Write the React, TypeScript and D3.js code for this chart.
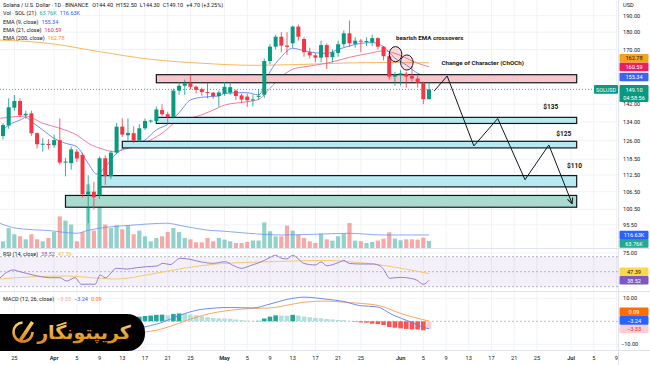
import React from 'react';
import * as d3 from 'd3';

// SOLUSD daily candles, Mar 23 2025 -> Jun 6 2025
const START = Date.UTC(2025, 2, 23);
const DAY = 86400000;
const dayOf = (i: number) => new Date(START + i * DAY);

const opens = [127.9, 132.4, 140.4, 143.5, 137.0, 137.8, 129.1, 124.5, 124.6, 124.1,
  126.2, 117.2, 117.0, 121.5, 120.2, 105.6, 106.5, 105.3, 118.9, 112.1,
  121.1, 131.9, 128.2, 129.1, 126.0, 131.2, 134.4, 134.4, 139.3, 137.4,
  136.2, 148.5, 150.9, 152.1, 150.4, 149.2, 147.8, 147.5, 145.9, 147.0,
  147.5, 148.5, 146.2, 145.6, 143.8, 145.5, 146.5, 163.7, 171.6, 177.3,
  172.2, 173.5, 183.3, 176.0, 168.5, 166.8, 165.5, 172.5, 165.8, 168.1,
  173.0, 179.3, 173.2, 175.0, 174.5, 174.0, 176.5, 171.6, 166.3, 155.5,
  156.5, 157.0, 155.8, 154.5, 152.4, 144.4];
const highs = [133.5, 144.8, 146.4, 144.8, 139.0, 139.0, 129.5, 127.0, 126.6, 128.5,
  135.5, 119.0, 123.5, 122.5, 121.0, 112.4, 110.0, 119.5, 120.0, 122.0,
  133.5, 135.5, 135.5, 132.0, 133.0, 135.5, 135.0, 141.0, 142.0, 138.5,
  149.5, 152.8, 154.0, 156.5, 151.0, 150.0, 152.4, 148.0, 148.5, 152.8,
  152.4, 149.0, 147.0, 147.0, 146.5, 149.0, 165.0, 173.0, 178.5, 180.0,
  180.0, 184.0, 184.5, 177.0, 171.0, 168.0, 175.0, 173.5, 170.0, 175.0,
  181.0, 187.0, 177.0, 176.0, 177.0, 178.5, 177.0, 172.0, 167.0, 158.0,
  159.0, 158.0, 161.0, 156.0, 153.0, 152.5];
const lows = [126.5, 131.0, 139.0, 136.0, 135.5, 128.0, 122.8, 121.5, 122.4, 123.0,
  116.5, 112.0, 114.5, 117.5, 104.5, 96.0, 100.5, 104.0, 108.9, 111.0,
  120.5, 127.5, 126.0, 125.0, 125.5, 130.5, 133.5, 133.5, 136.5, 133.2,
  135.5, 146.5, 146.4, 149.0, 147.0, 146.0, 144.8, 144.5, 140.8, 146.0,
  146.5, 144.0, 142.5, 140.8, 141.0, 144.0, 145.0, 162.0, 170.0, 168.5,
  167.0, 171.0, 175.0, 166.0, 165.0, 163.0, 163.0, 159.5, 163.0, 166.0,
  171.5, 171.5, 171.0, 168.5, 172.0, 172.0, 170.0, 164.0, 154.0, 151.0,
  151.0, 150.0, 153.0, 150.0, 142.0, 144.3];
const closes = [132.6, 140.6, 143.5, 137.0, 137.6, 129.1, 124.5, 124.7, 124.3, 126.2,
  117.2, 117.6, 122.4, 118.8, 105.6, 106.5, 104.6, 118.9, 112.1, 121.1,
  131.9, 128.5, 129.2, 126.0, 131.2, 134.4, 134.6, 139.6, 137.4, 136.2,
  148.5, 150.9, 152.1, 150.4, 148.9, 147.8, 147.6, 145.9, 147.6, 150.4,
  150.2, 145.9, 144.2, 143.9, 144.3, 146.0, 163.7, 171.6, 177.3, 172.2,
  171.5, 183.3, 177.3, 168.5, 166.8, 165.5, 172.5, 165.8, 168.5, 173.0,
  179.3, 173.5, 175.0, 174.5, 174.8, 176.5, 171.6, 166.3, 155.5, 156.5,
  157.2, 155.5, 154.5, 152.4, 144.4, 149.1];
// volume in thousands of SOL
const volumes = [60, 179, 123, 105, 78, 123, 78, 60, 90, 143,
  284, 246, 210, 60, 143, 571, 156, 645, 210, 179,
  204, 168, 204, 123, 156, 105, 60, 90, 105, 143,
  179, 143, 90, 78, 51, 51, 90, 60, 90, 75,
  60, 45, 45, 54, 67, 67, 230, 150, 105, 105,
  201, 156, 120, 90, 60, 45, 129, 78, 66, 105,
  129, 224, 66, 60, 45, 54, 66, 84, 141, 84,
  69, 78, 78, 75, 93, 63.76];

// indicator lines as [day index, value]
const ema9 = [[0, 130.5], [1, 132.6], [3, 134.8], [4, 136.0], [5, 134.1], [7, 130.5], [9, 126.9], [11, 124.9],
  [13, 123.5], [15, 116.9], [16.5, 112.9], [18, 115.6], [20, 120.8], [22, 123.8], [25, 126.2], [27, 130.5],
  [29, 133.0], [31, 138.1], [33, 144.0], [35, 145.3], [38, 145.9], [39, 147.2], [43, 147.5], [45, 146.4],
  [47, 158.0], [49, 166.0], [51, 170.7], [53, 169.3], [55, 168.2], [57, 167.9], [59, 170.1], [61, 172.0],
  [63, 173.5], [65, 173.9], [67, 171.6], [69, 165.2], [71, 161.6], [73, 157.2], [75, 155.34]];
const ema21 = [[-0.5, 135.6], [1, 136.0], [4, 136.6], [7, 133.4], [10, 131.2], [13, 128.3], [15, 124.9],
  [18, 122.2], [19.4, 121.5], [22, 122.8], [25, 125.1], [28, 129.1], [31, 134.8], [34, 136.3], [37, 139.3],
  [39, 141.6], [43, 143.2], [45, 144.3], [47, 149.6], [49, 155.5], [51, 159.3], [53, 160.6], [57, 162.5],
  [61, 165.7], [65, 168.2], [67, 169.3], [69, 167.9], [73, 162.5], [75, 160.59]];
const ema200 = [[-0.6, 175.4], [8, 173.5], [17, 168.8], [26, 164.6], [35, 162.5], [44, 161.4], [52, 161.8],
  [60, 162.6], [68, 162.9], [75, 162.78]];
const volMA = [[-0.6, 222], [2.4, 177], [8.3, 155], [13, 132], [14.7, 155], [17, 177], [23, 206], [28.8, 222],
  [31.7, 197], [35.9, 161], [39, 150], [43.2, 132], [49, 117], [54.9, 123], [60.8, 132], [66.7, 117], [75, 116.63]];
const rsi = [[-0.6, 41.2], [1.8, 52.3], [3, 50], [5.3, 45.6], [8.3, 42], [10, 42], [11.2, 37.6], [12.7, 42],
  [13.8, 33.2], [15.3, 33.4], [16.2, 33.2], [17.1, 45.6], [18, 42], [20, 54.5], [21.8, 53.5], [23.5, 55.3],
  [25.3, 56.7], [27, 57.5], [28.2, 61.2], [29.4, 59.5], [31.2, 67.9], [32.9, 66.5], [34.7, 63.3], [37, 61.2],
  [39.1, 63.3], [40.6, 58], [42, 54.5], [43.5, 58], [46, 65], [47, 69], [48, 72], [49, 68], [50, 67], [51, 72],
  [52, 67], [53, 61], [55, 59], [56, 63], [57, 58], [59, 62], [60, 65], [61, 61], [62.9, 60.3], [65.1, 60.3],
  [66.4, 57.7], [67, 53], [68.1, 41.2], [69.9, 42.5], [71.7, 41.2], [72.8, 38.9], [74, 33.2], [75, 38.52]];
const rsiMA = [[-0.6, 40.3], [5.3, 43.3], [11.2, 44.3], [17.1, 41.2], [20, 40.3], [25.9, 46.5], [31.7, 54.5],
  [37.6, 60.3], [43.5, 62.5], [50, 64], [56, 65], [62.9, 62], [66.4, 59], [75, 47.39]];
const macdLine = [[-0.6, -0.5], [5, 0.5], [10, -2.5], [14, -5.5], [17, -7.5], [20, -5.5], [24, -3], [28, -0.5],
  [31, 2.5], [35, 5.2], [40, 6], [44, 5.8], [47, 7.5], [50, 9.5], [53, 10.5], [57, 9.6], [60, 8.6], [62.9, 6.8],
  [65.8, 6.3], [68.7, 2.7], [71.7, -0.2], [74, -2.6], [75, -3.24]];
const signalLine = [[-0.6, -2], [5, -0.5], [10, -1.2], [14, -3.0], [17, -5.0], [20, -5.8], [24, -5], [28, -3.3],
  [31, -0.8], [35, 2.5], [40, 4.8], [44, 5.6], [47, 5.8], [50, 7], [53, 8.3], [57, 8.8], [60, 8.3], [62.9, 7.8],
  [66.4, 6.7], [69.9, 3.5], [75, 0.09]];
const macdHist = [1.5, 2.3, 2.6, 2.2, 1.8, 1.0, 0.3, -0.3, -0.8, -0.9,
  -1.5, -1.9, -1.8, -1.9, -3.0, -3.2, -3.0, -2.2, -1.4, -0.6,
  0.3, 0.9, 1.3, 1.6, 2.0, 2.3, 2.5, 2.8, 2.9, 2.6,
  3.2, 3.4, 3.3, 3.0, 2.6, 2.2, 1.8, 1.5, 1.3, 1.2,
  1.1, 0.8, 0.5, 0.3, 0.2, 0.2, 1.2, 2.0, 2.6, 2.5,
  2.4, 2.8, 2.5, 2.1, 1.8, 1.5, 1.3, 1.0, 0.8, 0.6,
  0.5, 0.2, -0.2, -0.5, -0.6, -1.0, -1.2, -1.6, -2.5, -2.8,
  -3.1, -3.3, -3.5, -3.6, -3.9, -3.33];

const priceTicks = [190, 180, 170, 142, 134, 126, 118.5, 112.5, 106.5, 100.5, 95.5];
const dateTicks: [number, string][] = [
  [2, '25'], [9, 'Apr'], [13, '5'], [17, '9'], [21, '13'], [25, '17'], [29, '21'], [33, '25'],
  [39, 'May'], [43, '5'], [47, '9'], [51, '13'], [55, '17'], [59, '21'], [63, '25'],
  [70, 'Jun'], [74, '5'], [78, '9'], [82, '13'], [86, '17'], [90, '21'], [94, '25'],
  [100, 'Jul'], [104, '5'], [108, '9']];

// drawing annotations: zones as [from day, to day, low, high, kind]
const zones: [number, number, number, number, string][] = [
  [27, 101, 152.4, 156.5, 'supply'],
  [27, 101, 133.3, 136.0, 'target'],
  [21, 101, 123.0, 125.7, 'target'],
  [17, 101, 108.2, 112.3, 'target'],
  [11, 101, 101.2, 105.2, 'base']];
const zigzag = [[75.9, 148.3], [78.2, 155.8], [82.9, 123.8], [87.1, 135.5], [91.9, 110.8], [96.1, 124.2], [100.2, 102.4]];
const crossCircles = [[69.1, 167.4], [71.1, 162.9]];
const notes: [number, number, string, number][] = [
  [69.2, 175.4, 'bearish EMA crossovers', 6.2],
  [77.2, 161.6, 'Change of Character (ChOCh)', 6.2],
  [95.1, 139.8, '$135', 6.6],
  [97.4, 127.9, '$125', 6.6],
  [99.3, 115.1, '$110', 6.6]];

const W = 650, H = 365;
const PR = 618; // plot right edge
const FONT = 'Roboto, "Liberation Sans", sans-serif';
const UP = '#089981', DOWN = '#f23645';

const x = d3.scaleUtc().domain([dayOf(0), dayOf(100)]).range([3, 3 + 5.68 * 100]);
const y = d3.scaleLog().domain([88.5, 200.07]).range([248, 0]);
const yVol = d3.scaleLinear().domain([0, 1000]).range([248, 136.5]);
const yRsi = d3.scaleLinear().domain([30, 70]).range([286.7, 256.7]);
const yMacd = d3.scaleLinear().domain([-10, 10]).range([344.3, 298.3]);
const xi = (i: number) => x(dayOf(i));

const lineOf = (ys: (v: number) => number) => d3.line<number[]>().x(d => xi(d[0])).y(d => ys(d[1])).curve(d3.curveMonotoneX);

type Lab = { y: number; text: string; bg: string; fg: string; h?: number; sub?: string };
// push overlapping axis labels upwards, like the chart does
function stackUp(labs: Lab[]) {
  const s = [...labs].sort((a, b) => b.y - a.y);
  for (let k = 1; k < s.length; k++) {
    s[k].y = Math.min(s[k].y, s[k - 1].y - 8.6);
  }
  return s;
}

export default function App() {
  const last = closes.length - 1;
  const lastOf = (a: number[][]) => a[a.length - 1][1];
  const neg = (v: number) => (v < 0 ? '\u2212' : '') + Math.abs(v).toFixed(2);
  const priceLabels = stackUp([
    { y: y(lastOf(ema200)), text: lastOf(ema200).toFixed(2), bg: '#f7a21b', fg: '#131722' },
    { y: y(lastOf(ema21)), text: lastOf(ema21).toFixed(2), bg: '#e91e63', fg: '#fff' },
    { y: y(lastOf(ema9)), text: lastOf(ema9).toFixed(2), bg: '#3d63f0', fg: '#fff' },
    { y: y(closes[last]), text: closes[last].toFixed(2), bg: UP, fg: '#fff', h: 17, sub: '04:58:56' }]);
  const rsiLabels = stackUp([
    { y: yRsi(lastOf(rsiMA)), text: lastOf(rsiMA).toFixed(2), bg: '#f9d94a', fg: '#131722' },
    { y: yRsi(lastOf(rsi)), text: lastOf(rsi).toFixed(2), bg: '#7e57c2', fg: '#fff' }]);
  const macdLabels = stackUp([
    { y: yMacd(lastOf(signalLine)), text: neg(lastOf(signalLine)), bg: '#ff6d00', fg: '#fff' },
    { y: yMacd(lastOf(macdLine)), text: neg(lastOf(macdLine)), bg: '#2962ff', fg: '#fff' },
    { y: yMacd(macdHist[last]), text: neg(macdHist[last]), bg: '#ffcdd2', fg: '#d32f2f' }]);
  const volMaLast = lastOf(volMA);
  const volLabels: Lab[] = [
    { y: Math.max(yVol(volumes[last]), yVol(volMaLast) + 8.4), text: volumes[last].toFixed(2) + 'K', bg: '#22ab94', fg: '#fff' },
    { y: yVol(volMaLast), text: volMaLast.toFixed(2) + 'K', bg: '#2962ff', fg: '#fff' }];

  const zoneStyle: Record<string, string> = { supply: '#f8c5c9', target: '#b6e9f0', base: '#a9dccf' };
  const zig = d3.line<number[]>().x(d => xi(d[0])).y(d => y(d[1]));

  const axisLabel = (l: Lab, key: string) => (
    <g key={key}>
      <rect x={619.5} y={l.y - 4.3} width={29} height={l.h || 8.6} rx={1} fill={l.bg} />
      <text x={634} y={l.y + 0.2} fontSize={5.6} fill={l.fg} textAnchor="middle" dominantBaseline="central">{l.text}</text>
      {l.sub && <text x={634} y={l.y + 8.2} fontSize={5.6} fill={l.fg} textAnchor="middle" dominantBaseline="central">{l.sub}</text>}
    </g>
  );

  return (
    <svg width={W} height={H} style={{ position: 'absolute', left: 0, top: 0, background: '#fff' }} fontFamily={FONT}>
      <defs>
        <clipPath id="pp"><rect x={0} y={0} width={PR} height={248.5} /></clipPath>
        <clipPath id="rp"><rect x={0} y={249} width={PR} height={42} /></clipPath>
        <clipPath id="mp"><rect x={0} y={292} width={PR} height={58} /></clipPath>
        <marker id="arr" viewBox="0 0 10 10" refX={9} refY={5} markerWidth={7} markerHeight={7} orient="auto">
          <path d="M1,1 L9,5 L1,9" fill="none" stroke="#131722" strokeWidth={1.4} />
        </marker>
        <linearGradient id="gold" x1="0" y1="0" x2="0" y2="1">
          <stop offset="0" stopColor="#fbd36b" />
          <stop offset="1" stopColor="#d9861c" />
        </linearGradient>
      </defs>

      {/* grid */}
      {dateTicks.map(([d]) => (
        <line key={'vg' + d} x1={xi(d)} x2={xi(d)} y1={0} y2={350} stroke="#f0f2f5" strokeWidth={1} />
      ))}
      {priceTicks.map(p => (
        <line key={'hg' + p} x1={0} x2={PR} y1={y(p)} y2={y(p)} stroke="#f0f2f5" />
      ))}
      <line x1={0} x2={PR} y1={yRsi(75)} y2={yRsi(75)} stroke="#f0f2f5" />
      <line x1={0} x2={PR} y1={yMacd(10)} y2={yMacd(10)} stroke="#f0f2f5" />
      <line x1={0} x2={PR} y1={yMacd(-10)} y2={yMacd(-10)} stroke="#f0f2f5" />

      {/* price pane */}
      <g clipPath="url(#pp)">
        {volumes.map((v, i) => (
          <rect key={'v' + i} x={xi(i) - 2.1} width={4.2} y={yVol(v)} height={248 - yVol(v)}
            fill={closes[i] >= opens[i] ? 'rgba(38,166,154,0.5)' : 'rgba(239,83,80,0.5)'} />
        ))}
        <path d={lineOf(yVol)(volMA) || ''} fill="none" stroke="#6f93f0" strokeWidth={0.8} />
        <path d={lineOf(y)(ema200) || ''} fill="none" stroke="#f8b75f" strokeWidth={1} />
        <path d={lineOf(y)(ema21) || ''} fill="none" stroke="#f07ca0" strokeWidth={1} />
        <path d={lineOf(y)(ema9) || ''} fill="none" stroke="#6d8ff2" strokeWidth={1} />
        <line x1={0} x2={PR} y1={y(closes[last])} y2={y(closes[last])} stroke={UP} strokeDasharray="1 2" strokeWidth={0.8} />

        {zones.map(([a, b, lo, hi, k], n) => (
          <rect key={'z' + n} x={xi(a)} width={xi(b) - xi(a)} y={y(hi)} height={y(lo) - y(hi)}
            fill={zoneStyle[k]} stroke="#131722" strokeWidth={1.2} />
        ))}

        {opens.map((o, i) => {
          const c = closes[i];
          const col = c >= o ? UP : DOWN;
          const top = y(Math.max(o, c));
          const bh = Math.max(1, y(Math.min(o, c)) - top);
          return (
            <g key={'c' + i}>
              <line x1={xi(i)} x2={xi(i)} y1={y(highs[i])} y2={y(lows[i])} stroke={col} strokeWidth={0.8} />
              <rect x={xi(i) - 2} width={4} y={top} height={bh} fill={col} />
            </g>
          );
        })}

        {crossCircles.map(([i, p], n) => (
          <ellipse key={'cc' + n} cx={xi(i)} cy={y(p)} rx={6.3} ry={7.6} fill="rgba(242,54,69,0.18)" stroke="#131722" strokeWidth={1} />
        ))}
        <path d={zig(zigzag) || ''} fill="none" stroke="#131722" strokeWidth={1} markerEnd="url(#arr)" />
        {notes.map(([i, p, t, fs], n) => (
          <text key={'n' + n} x={xi(i)} y={y(p)} fontSize={fs} fontWeight={700} fill="#131722">{t}</text>
        ))}
      </g>

      {/* SOLUSD tag */}
      <rect x={594} y={y(closes[last]) - 4.3} width={24} height={8.6} rx={1} fill={UP} />
      <text x={606} y={y(closes[last]) + 0.2} fontSize={5.4} fill="#fff" textAnchor="middle" dominantBaseline="central">SOLUSD</text>

      {/* RSI pane */}
      <g clipPath="url(#rp)">
        <rect x={0} width={PR} y={yRsi(70)} height={yRsi(30) - yRsi(70)} fill="rgba(126,87,194,0.09)" />
        {[70, 50, 30].map(v => (
          <line key={'rl' + v} x1={0} x2={PR} y1={yRsi(v)} y2={yRsi(v)} stroke="#a5a7b0" strokeDasharray="2 2" strokeWidth={0.8} />
        ))}
        <path d={lineOf(yRsi)(rsiMA) || ''} fill="none" stroke="#f7c55a" strokeWidth={0.9} />
        <path d={lineOf(yRsi)(rsi) || ''} fill="none" stroke="#8c6fd0" strokeWidth={0.9} />
      </g>

      {/* MACD pane */}
      <g clipPath="url(#mp)">
        <line x1={0} x2={PR} y1={yMacd(0)} y2={yMacd(0)} stroke="#b0b3bb" strokeDasharray="2 2" strokeWidth={0.8} />
        {macdHist.map((h, i) => {
          const prev = i > 0 ? macdHist[i - 1] : h;
          const col = h >= 0 ? (h >= prev ? '#26a69a' : '#b2dfdb') : (h < prev ? '#ff5252' : '#ffcdd2');
          const y0 = yMacd(0), y1 = yMacd(h);
          return <rect key={'h' + i} x={xi(i) - 2.3} width={4.6} y={Math.min(y0, y1)} height={Math.abs(y1 - y0)} fill={col} />;
        })}
        <path d={lineOf(yMacd)(signalLine) || ''} fill="none" stroke="#ff9a4d" strokeWidth={0.9} />
        <path d={lineOf(yMacd)(macdLine) || ''} fill="none" stroke="#5a80f3" strokeWidth={0.9} />
      </g>

      {/* pane separators */}
      <line x1={0} x2={W} y1={248.5} y2={248.5} stroke="#e0e3eb" />
      <line x1={0} x2={W} y1={291.5} y2={291.5} stroke="#e0e3eb" />
      <line x1={0} x2={W} y1={350.5} y2={350.5} stroke="#e0e3eb" />
      <line x1={PR + 0.5} x2={PR + 0.5} y1={0} y2={365} stroke="#e0e3eb" />

      {/* right axis */}
      <text x={623} y={5} fontSize={5.6} fill="#131722" dominantBaseline="central">USD</text>
      {priceTicks.map(p => (
        <text key={'pt' + p} x={623} y={y(p)} fontSize={5.6} fill="#131722" dominantBaseline="central">{p.toFixed(2)}</text>
      ))}
      <text x={623} y={yRsi(75)} fontSize={5.6} fill="#131722" dominantBaseline="central">75.00</text>
      <text x={623} y={yMacd(10)} fontSize={5.6} fill="#131722" dominantBaseline="central">10.00</text>
      <text x={621} y={yMacd(-10)} fontSize={5.6} fill="#131722" dominantBaseline="central">{'\u221210.00'}</text>
      {priceLabels.map((l, k) => axisLabel(l, 'pl' + k))}
      {volLabels.map((l, k) => axisLabel(l, 'vl' + k))}
      {rsiLabels.map((l, k) => axisLabel(l, 'rl' + k))}
      {macdLabels.map((l, k) => axisLabel(l, 'ml' + k))}

      {/* legends */}
      <g fontSize={5.5} fill="#131722">
        <text x={3} y={5} dominantBaseline="central">
          Solana / U.S. Dollar · 1D · BINANCE
          <tspan dx={4}>O{opens[last].toFixed(2)}</tspan>
          <tspan dx={3}>H{highs[last].toFixed(2)}</tspan>
          <tspan dx={3}>L{lows[last].toFixed(2)}</tspan>
          <tspan dx={3}>C{closes[last].toFixed(2)}</tspan>
          <tspan dx={3}>+4.70 (+3.25%)</tspan>
        </text>
        <text x={3} y={13.3} dominantBaseline="central">Vol · SOL (21)
          <tspan dx={3} fill="#22ab94">{volumes[last].toFixed(2)}K</tspan>
          <tspan dx={3} fill="#2962ff">{volMaLast.toFixed(2)}K</tspan>
        </text>
        <text x={3} y={21.7} dominantBaseline="central">EMA (9, close)
          <tspan dx={3} fill="#2962ff">{lastOf(ema9).toFixed(2)}</tspan>
        </text>
        <text x={3} y={30} dominantBaseline="central">EMA (21, close)
          <tspan dx={3} fill="#e91e63">{lastOf(ema21).toFixed(2)}</tspan>
        </text>
        <text x={3} y={38.3} dominantBaseline="central">EMA (200, close)
          <tspan dx={3} fill="#ff9800">{lastOf(ema200).toFixed(2)}</tspan>
        </text>
        <text x={3} y={254} dominantBaseline="central">RSI (14, close)
          <tspan dx={3} fill="#7e57c2">{lastOf(rsi).toFixed(2)}</tspan>
          <tspan dx={3} fill="#f2c12e">{lastOf(rsiMA).toFixed(2)}</tspan>
        </text>
        <text x={3} y={299} dominantBaseline="central">MACD (12, 26, close)
          <tspan dx={3} fill="#f7a3ad">{neg(macdHist[last])}</tspan>
          <tspan dx={3} fill="#2962ff">{neg(lastOf(macdLine))}</tspan>
          <tspan dx={3} fill="#ff6d00">{neg(lastOf(signalLine))}</tspan>
        </text>
      </g>

      {/* logo badge */}
      <path d="M0,314 H127 A18,18 0 0 1 145,332 V334 A17,17 0 0 1 128,351 H0 Z" fill="#000" />
      <circle cx={23} cy={332} r={9.5} fill="none" stroke="url(#gold)" strokeWidth={2.6} strokeDasharray="44 16" />
      <path d="M19,339 L31,321 L34,323 L22,341 Z" fill="url(#gold)" />
      <text x={84} y={339} fontSize={19} fontWeight={700} fill="url(#gold)" textAnchor="middle"
        fontFamily='"DejaVu Sans", sans-serif' direction="rtl">کریپتونگار</text>

      {/* time axis */}
      {dateTicks.map(([d, t]) => (
        <text key={'dt' + d} x={xi(d)} y={358} fontSize={5.6} fill="#131722" textAnchor="middle" dominantBaseline="central"
          fontWeight={t.length > 2 ? 600 : 400}>{t}</text>
      ))}
    </svg>
  );
}
